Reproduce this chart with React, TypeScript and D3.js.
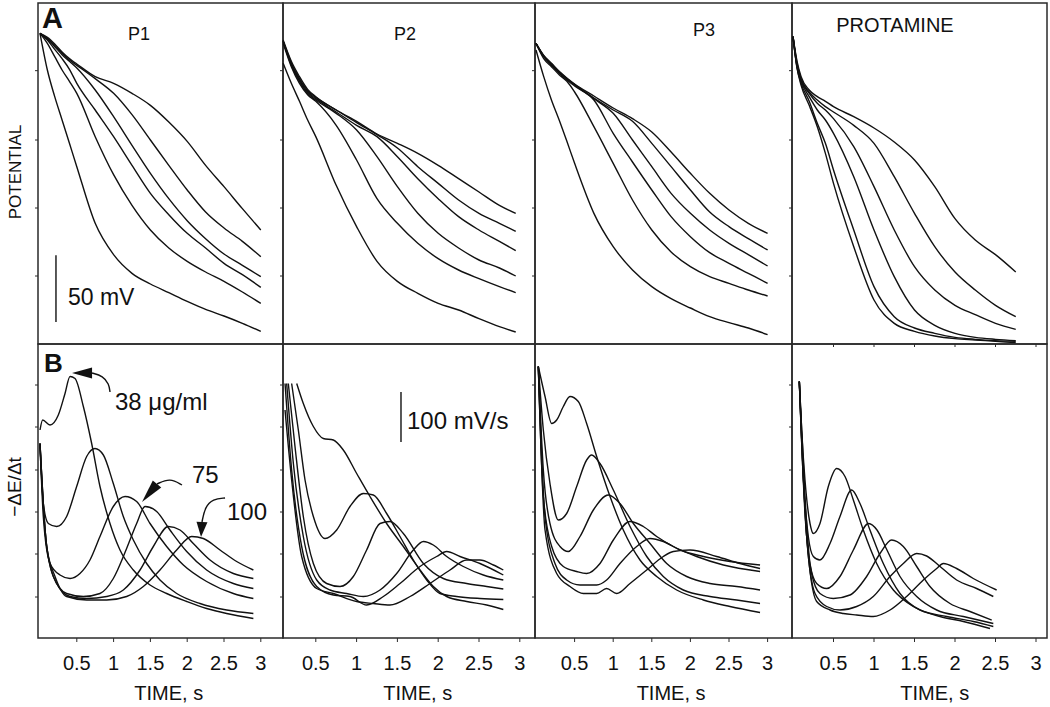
import React from 'react';
import * as d3 from 'd3';

type Pair = [number, number];

const FONT = '"Liberation Sans", Arial, Helvetica, sans-serif';

// ---- top row: potential traces (mV), one time grid per panel (s) ----
const tP1 = [0, 0.1, 0.2, 0.3, 0.4, 0.5, 0.75, 1.0, 1.25, 1.5, 1.75, 2.0, 2.25, 2.5, 2.75, 3.0];
const potP1 = [
  [233, 205.5, 185.5, 168, 150.5, 133, 90.5, 67, 53, 45, 38.5, 32, 26, 21, 15.5, 9.5],
  [233, 225.5, 215.5, 205.5, 197, 188, 155.5, 127, 104, 85.5, 72, 62, 54, 47, 39, 30.5],
  [233, 228, 221, 214, 206, 195.5, 175.5, 155.5, 134, 113, 97, 83, 72, 60.5, 52, 42.5],
  [233, 229, 223, 217, 212, 207, 190.5, 170.5, 149, 128, 109, 92.5, 79, 67.5, 59, 50.5],
  [233, 229, 224, 218, 213, 209, 199, 188, 172, 153, 134, 115.5, 99, 87, 77, 65.5],
  [233, 230, 225, 219, 214, 210, 200.5, 195.5, 188, 179, 166.5, 152, 134, 118, 101.5, 85.5],
];

const tP2 = [0.1, 0.2, 0.3, 0.4, 0.5, 0.75, 1.0, 1.25, 1.5, 1.75, 2.0, 2.25, 2.5, 2.75, 2.95];
const potP2 = [
  [210.5, 195.5, 182, 168, 155.5, 119, 88, 62, 47, 38, 30.5, 25.5, 19, 13, 9],
  [225.5, 208, 195.5, 187, 182, 164, 138, 109, 90.5, 75.5, 64, 55.5, 49, 43, 38.5],
  [227, 209, 197, 188, 183, 173, 160.5, 140.5, 118, 98, 83, 72, 63, 57, 51],
  [227, 210, 198, 189, 184, 174, 164, 155.5, 140.5, 124, 109, 95.5, 85.5, 77, 70],
  [227, 211, 199, 190, 185, 175.5, 166, 157, 147, 133, 120.5, 108, 98, 90.5, 84.5],
  [228, 212, 200.5, 191, 185.5, 175.5, 167, 157.5, 150.5, 143, 134, 124, 114, 104, 98],
];

const tP3 = [0, 0.1, 0.2, 0.3, 0.4, 0.5, 0.75, 1.0, 1.25, 1.5, 1.75, 2.0, 2.25, 2.5, 2.75, 3.0];
const potP3 = [
  [220.5, 200.5, 183, 168, 152, 135.5, 98, 73, 55.5, 43, 34, 27, 20.5, 16, 12, 7],
  [225.5, 214, 208, 202, 197, 189, 163, 135.5, 108, 85.5, 69, 58, 50.5, 45.5, 40.5, 36],
  [225.5, 215.5, 209, 203, 198, 193.5, 183, 158, 136.5, 115.5, 95.5, 80.5, 68.5, 60.5, 53, 45.5],
  [225.5, 216, 210, 204, 199, 194.5, 184, 173, 153, 133, 113, 98, 85.5, 75.5, 67, 58.5],
  [225.5, 216, 210, 204, 199, 194.5, 184.5, 175.5, 167, 150.5, 133, 115.5, 99, 88, 79, 70.5],
  [225.5, 216.5, 210.5, 204.5, 199.5, 195, 186, 177, 169, 159, 144, 128, 113, 100.5, 90.5, 83],
];

const tP4 = [0, 0.05, 0.1, 0.2, 0.3, 0.4, 0.5, 0.75, 1.0, 1.25, 1.5, 1.75, 2.0, 2.25, 2.5, 2.75];
const potP4 = [
  [230.5, 207, 194, 179, 163, 143, 120.5, 73, 33, 15.5, 9.5, 6, 4, 3, 2, 1],
  [230.5, 207, 195.5, 182, 165.5, 150.5, 130.5, 85.5, 43, 20.5, 12, 8, 5, 3.5, 2.5, 2],
  [230.5, 208, 197, 185.5, 175.5, 168, 158, 125.5, 85.5, 50.5, 25.5, 14, 8, 5, 3.5, 2.5],
  [230.5, 209, 198, 188, 180.5, 175.5, 169, 148, 118, 85.5, 58, 40.5, 29, 22, 15.5, 11],
  [230.5, 210.5, 199, 189, 183, 178, 174, 164, 150.5, 125.5, 98, 73, 54, 40.5, 29, 20.5],
  [230.5, 212, 200.5, 190.5, 185.5, 182, 178, 170.5, 162, 151.5, 138, 118, 94, 78, 67, 54],
];

// ---- bottom row: -dE/dt traces, [time s, mV/s] ----
const rateP1: Pair[][] = [
  [[0, 416], [0.036, 436], [0.136, 426], [0.249, 446], [0.34, 489], [0.408, 523], [0.476, 519], [0.589, 463], [0.702, 389], [0.815, 303], [0.951, 229], [1.087, 176], [1.268, 136], [1.495, 106], [1.721, 89], [1.993, 73], [2.264, 59], [2.536, 49], [2.899, 39]],
  [[0, 383], [0.045, 269], [0.113, 229], [0.226, 223], [0.362, 243], [0.498, 303], [0.634, 363], [0.747, 379], [0.861, 366], [0.996, 309], [1.132, 243], [1.268, 196], [1.449, 149], [1.63, 116], [1.857, 89], [2.174, 69], [2.536, 56], [2.899, 49]],
  [[0, 389], [0.045, 243], [0.136, 149], [0.272, 126], [0.408, 119], [0.543, 129], [0.679, 156], [0.815, 203], [0.996, 263], [1.155, 283], [1.313, 273], [1.495, 229], [1.721, 183], [1.948, 146], [2.264, 113], [2.627, 89], [2.899, 79]],
  [[0, 389], [0.068, 216], [0.181, 123], [0.362, 89], [0.589, 83], [0.815, 89], [0.996, 119], [1.177, 179], [1.313, 229], [1.427, 263], [1.585, 253], [1.766, 216], [1.993, 173], [2.264, 136], [2.627, 109], [2.899, 99]],
  [[0, 389], [0.091, 183], [0.226, 109], [0.408, 83], [0.634, 79], [0.906, 83], [1.132, 96], [1.359, 136], [1.54, 183], [1.744, 223], [1.902, 216], [2.083, 189], [2.31, 156], [2.627, 129], [2.899, 119]],
  [[0, 389], [0.091, 183], [0.204, 123], [0.362, 83], [0.634, 76], [0.906, 76], [1.177, 83], [1.404, 103], [1.63, 136], [1.857, 176], [2.061, 203], [2.219, 199], [2.446, 176], [2.672, 153], [2.899, 136]],
];

const rateP2: Pair[][] = [
  [[0.266, 509], [0.347, 469], [0.47, 423], [0.592, 399], [0.715, 396], [0.837, 376], [1.001, 329], [1.164, 283], [1.368, 229], [1.573, 183], [1.777, 136], [1.94, 103], [2.104, 83], [2.349, 73], [2.594, 66], [2.798, 57]],
  [[0.204, 509], [0.286, 416], [0.368, 316], [0.47, 243], [0.613, 199], [0.756, 216], [0.919, 263], [1.083, 289], [1.205, 286], [1.368, 249], [1.532, 203], [1.695, 156], [1.859, 116], [2.022, 89], [2.226, 83], [2.512, 79], [2.798, 77]],
  [[0.163, 509], [0.245, 383], [0.347, 243], [0.47, 149], [0.633, 109], [0.797, 103], [0.96, 123], [1.123, 176], [1.287, 229], [1.409, 233], [1.573, 209], [1.818, 149], [2.063, 119], [2.349, 109], [2.594, 103], [2.798, 98]],
  [[0.143, 509], [0.225, 349], [0.347, 203], [0.511, 116], [0.674, 96], [0.878, 89], [1.083, 83], [1.287, 96], [1.491, 129], [1.695, 176], [1.818, 193], [1.94, 186], [2.104, 163], [2.308, 143], [2.553, 126], [2.798, 116]],
  [[0.123, 509], [0.204, 336], [0.327, 183], [0.511, 103], [0.715, 86], [0.919, 83], [1.123, 66], [1.328, 83], [1.532, 109], [1.777, 143], [1.981, 163], [2.104, 173], [2.267, 163], [2.512, 149], [2.798, 126]],
  [[0.123, 456], [0.204, 316], [0.327, 163], [0.511, 99], [0.715, 89], [1.001, 73], [1.205, 69], [1.409, 66], [1.655, 83], [1.899, 109], [2.145, 136], [2.349, 156], [2.512, 156], [2.676, 146], [2.798, 136]],
];

const rateP3: Pair[][] = [
  [[0.03, 543], [0.117, 483], [0.203, 429], [0.268, 436], [0.354, 463], [0.44, 483], [0.548, 473], [0.656, 429], [0.786, 363], [0.959, 283], [1.131, 216], [1.347, 156], [1.563, 123], [1.822, 96], [2.168, 76], [2.513, 63], [2.902, 51]],
  [[0.03, 543], [0.095, 416], [0.181, 309], [0.289, 236], [0.397, 249], [0.527, 303], [0.656, 356], [0.721, 366], [0.829, 349], [1.002, 296], [1.218, 223], [1.434, 163], [1.649, 123], [1.908, 96], [2.254, 83], [2.599, 76], [2.902, 69]],
  [[0.03, 543], [0.095, 336], [0.181, 229], [0.311, 183], [0.419, 173], [0.57, 203], [0.743, 256], [0.937, 286], [1.088, 269], [1.261, 229], [1.477, 189], [1.693, 149], [1.952, 123], [2.254, 109], [2.599, 103], [2.902, 96]],
  [[0.03, 543], [0.095, 283], [0.203, 183], [0.354, 143], [0.527, 133], [0.656, 129], [0.829, 149], [1.002, 196], [1.218, 233], [1.39, 223], [1.563, 203], [1.779, 183], [2.081, 163], [2.427, 146], [2.902, 133]],
  [[0.03, 543], [0.117, 243], [0.246, 149], [0.397, 116], [0.57, 106], [0.786, 106], [0.915, 116], [1.088, 149], [1.304, 183], [1.477, 199], [1.649, 193], [1.865, 176], [2.168, 163], [2.513, 153], [2.902, 146]],
  [[0.03, 543], [0.117, 216], [0.268, 129], [0.44, 103], [0.613, 89], [0.786, 89], [0.915, 99], [1.045, 89], [1.218, 109], [1.434, 136], [1.649, 163], [1.779, 173], [1.995, 176], [2.34, 163], [2.642, 149], [2.902, 139]],
];

const rateP4: Pair[][] = [
  [[0.078, 513], [0.107, 416], [0.148, 316], [0.21, 229], [0.251, 209], [0.333, 229], [0.436, 303], [0.539, 339], [0.642, 323], [0.745, 276], [0.868, 216], [1.033, 149], [1.239, 96], [1.486, 63], [1.815, 43], [2.103, 33], [2.432, 19]],
  [[0.078, 513], [0.128, 316], [0.189, 203], [0.251, 163], [0.333, 156], [0.457, 189], [0.58, 243], [0.724, 296], [0.827, 269], [0.95, 216], [1.115, 149], [1.321, 89], [1.568, 56], [1.897, 43], [2.226, 33], [2.473, 23]],
  [[0.078, 513], [0.148, 283], [0.21, 149], [0.292, 109], [0.416, 99], [0.58, 123], [0.745, 176], [0.934, 229], [1.037, 216], [1.16, 176], [1.321, 123], [1.527, 83], [1.774, 56], [2.103, 43], [2.473, 29]],
  [[0.078, 513], [0.148, 249], [0.23, 129], [0.333, 89], [0.498, 79], [0.704, 86], [0.909, 123], [1.074, 169], [1.218, 196], [1.362, 183], [1.527, 143], [1.691, 103], [1.938, 69], [2.185, 53], [2.453, 36]],
  [[0.078, 513], [0.169, 203], [0.272, 89], [0.416, 63], [0.58, 56], [0.786, 63], [0.991, 83], [1.198, 123], [1.362, 149], [1.527, 169], [1.65, 164], [1.815, 143], [2.02, 116], [2.267, 99], [2.473, 83]],
  [[0.078, 513], [0.169, 203], [0.292, 73], [0.457, 56], [0.621, 49], [0.786, 46], [0.991, 43], [1.198, 56], [1.403, 83], [1.609, 116], [1.774, 139], [1.856, 149], [2.02, 139], [2.226, 119], [2.514, 96]],
];

const panelTitles = ['P1', 'P2', 'P3', 'PROTAMINE'];
const timeTicks = [0.5, 1, 1.5, 2, 2.5, 3];
const potTicks = [51, 102, 153, 205];
const rateTicks = [82, 168, 252, 336, 422, 506];

// annotations on P1 (B), in [s, mV/s]
const concLabels = ['38 μg/ml', '75', '100'];
const concLabelAt: Pair[] = [[1.019, 456], [2.065, 310], [2.541, 236]];
const concArrows: Pair[][] = [
  [[0.435, 530], [0.707, 530], [0.856, 524], [0.9375, 508], [0.951, 492]],
  [[1.386, 272], [1.59, 308], [1.766, 320], [1.929, 306]],
  [[2.188, 202], [2.201, 232], [2.242, 262], [2.351, 278], [2.514, 280]],
];

// layout
const W = 1050;
const H = 707;
const cols = [
  { x0: 38, x1: 283, origin: 40, pps: 73.6, tx: 139, ty: 40, ts: 18 },
  { x0: 283, x1: 535, origin: 275, pps: 81.6, tx: 405, ty: 40, ts: 18 },
  { x0: 535, x1: 792, origin: 536, pps: 77.2, tx: 704, ty: 36, ts: 18 },
  { x0: 792, x1: 1047, origin: 793, pps: 81, tx: 895, ty: 32, ts: 20 },
];
const top = { y0: 3, y1: 344 };
const bot = { y0: 344, y1: 638 };

const yPot = d3.scaleLinear().domain([0, 258]).range([top.y1, top.y1 - 258 * (4 / 3)]);
const yRate = d3.scaleLinear().domain([0, 586]).range([bot.y1, bot.y0 + 1]);

const potSets = [
  { t: tP1, curves: potP1 },
  { t: tP2, curves: potP2 },
  { t: tP3, curves: potP3 },
  { t: tP4, curves: potP4 },
];
const rateSets = [rateP1, rateP2, rateP3, rateP4];

const frameStroke = '#2a2a2a';

function arrowHead(tip: Pair, base: Pair, w: number) {
  const dx = tip[0] - base[0];
  const dy = tip[1] - base[1];
  const len = Math.hypot(dx, dy) || 1;
  const nx = -dy / len;
  const ny = dx / len;
  return `M${tip[0]},${tip[1]}L${base[0] + (nx * w) / 2},${base[1] + (ny * w) / 2}L${base[0] - (nx * w) / 2},${base[1] - (ny * w) / 2}Z`;
}

export default function App() {
  const xScales = cols.map((c) => d3.scaleLinear().domain([0, 3]).range([c.origin, c.origin + 3 * c.pps]));

  return (
    <svg width={W} height={H} style={{ position: 'absolute', left: 0, top: 0, background: '#fff' }} fontFamily={FONT}>
      <rect x={0} y={0} width={W} height={H} fill="#fff" />
      {cols.map((c, i) => {
        const x = xScales[i];
        const potLine = d3
          .line<number>()
          .x((_, k) => x(potSets[i].t[k]))
          .y((d) => yPot(d))
          .curve(d3.curveMonotoneX);
        const rateLine = d3
          .line<Pair>()
          .x((d) => x(d[0]))
          .y((d) => yRate(d[1]))
          .curve(d3.curveMonotoneX);
        const mid = x(1.75);
        return (
          <g key={i}>
            {/* frames */}
            <rect x={c.x0} y={top.y0} width={c.x1 - c.x0} height={top.y1 - top.y0} fill="none" stroke={frameStroke} strokeWidth={1.5} />
            <rect x={c.x0} y={bot.y0} width={c.x1 - c.x0} height={bot.y1 - bot.y0} fill="none" stroke={frameStroke} strokeWidth={1.5} />

            {/* y ticks */}
            {potTicks.map((v) => (
              <line key={'pt' + v} x1={c.x0 - 3} x2={c.x0} y1={yPot(v)} y2={yPot(v)} stroke={frameStroke} strokeWidth={1} />
            ))}
            {rateTicks.map((v) => (
              <line key={'rt' + v} x1={c.x0 - 3} x2={c.x0} y1={yRate(v)} y2={yRate(v)} stroke={frameStroke} strokeWidth={1} />
            ))}

            {/* x axis of bottom panel */}
            {timeTicks.map((t) => (
              <g key={'xt' + t}>
                <line x1={x(t)} x2={x(t)} y1={bot.y1} y2={bot.y1 + 4} stroke={frameStroke} strokeWidth={1} />
                <text x={x(t)} y={670} fontSize={20} textAnchor="middle" fill="#111">
                  {String(t)}
                </text>
              </g>
            ))}
            {i === 3 &&
              timeTicks.map((t) => (
                <line key={'tt' + t} x1={x(t)} x2={x(t)} y1={top.y1} y2={top.y1 + 3} stroke={frameStroke} strokeWidth={1} />
              ))}
            <text x={mid} y={700} fontSize={20} textAnchor="middle" fill="#111">
              TIME, s
            </text>

            {/* title */}
            <text x={c.tx} y={c.ty} fontSize={c.ts} textAnchor="middle" fill="#111">
              {panelTitles[i]}
            </text>

            {/* traces */}
            {potSets[i].curves.map((cv, k) => (
              <path key={'p' + k} d={potLine(cv) || ''} fill="none" stroke="#111" strokeWidth={1.4} />
            ))}
            {rateSets[i].map((cv, k) => (
              <path key={'r' + k} d={rateLine(cv) || ''} fill="none" stroke="#111" strokeWidth={1.4} />
            ))}
          </g>
        );
      })}

      {/* panel letters */}
      <text x={42} y={28} fontSize={29} fontWeight="bold" fill="#111">A</text>
      <text x={44} y={372} fontSize={26} fontWeight="bold" fill="#111">B</text>

      {/* axis titles */}
      <text transform="translate(21,172) rotate(-90)" fontSize={17} textAnchor="middle" fill="#111">POTENTIAL</text>
      <text transform="translate(21,487) rotate(-90)" fontSize={19} textAnchor="middle" fill="#111">−ΔE/Δt</text>

      {/* scale bars */}
      {(() => {
        const x = xScales[0];
        return (
          <g>
            <line x1={x(0.217)} x2={x(0.217)} y1={yPot(16.5)} y2={yPot(66.5)} stroke="#111" strokeWidth={1.4} />
            <text x={x(0.38)} y={yPot(29)} fontSize={23} fill="#111">50 mV</text>
          </g>
        );
      })()}
      {(() => {
        const x = xScales[1];
        return (
          <g>
            <line x1={x(1.544)} x2={x(1.544)} y1={yRate(392)} y2={yRate(492)} stroke="#111" strokeWidth={1.4} />
            <text x={x(1.618)} y={yRate(418)} fontSize={24} fill="#111">100 mV/s</text>
          </g>
        );
      })()}

      {/* concentration annotations */}
      {concArrows.map((pts, k) => {
        const x = xScales[0];
        const px: Pair[] = pts.map((p) => [x(p[0]), yRate(p[1])]);
        const body = d3.line<Pair>().curve(d3.curveBasis)(px.slice(1)) || '';
        return (
          <g key={'a' + k}>
            <path d={body} fill="none" stroke="#111" strokeWidth={1.4} />
            <path d={arrowHead(px[0], px[1], 11)} fill="#111" />
            <text x={x(concLabelAt[k][0])} y={yRate(concLabelAt[k][1])} fontSize={24} fill="#111">
              {concLabels[k]}
            </text>
          </g>
        );
      })}
    </svg>
  );
}
